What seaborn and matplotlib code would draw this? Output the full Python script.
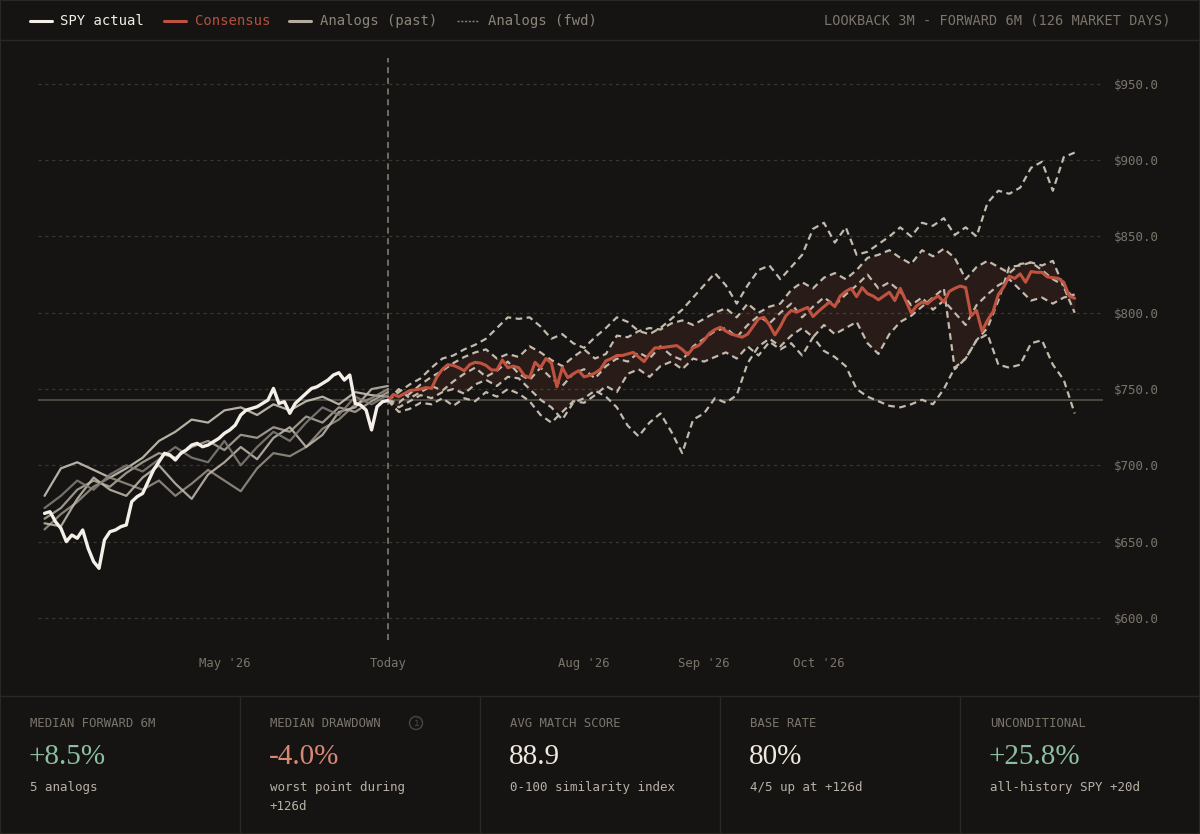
import numpy as np
import pandas as pd
import seaborn as sns
import matplotlib.pyplot as plt
from matplotlib.lines import Line2D
from matplotlib.patches import Ellipse, Rectangle

# x axis = market days relative to today (0)
spy_days = list(range(-63, 1))
past_days = list(range(-63, 1, 3))
fwd_days = list(range(0, 127, 2))
cons_days = list(range(0, 127))

today_price = 742.5

# SPY actual, last 3 months
spy_actual = [668.5, 669.6, 663.1, 658.7, 650.0, 654.3, 652.2, 657.6, 645.6, 636.9,
              632.5, 651.1, 656.5, 657.6, 659.8, 660.9, 676.2, 679.5, 681.6, 689.3,
              697.0, 702.4, 707.9, 706.8, 703.5, 707.9, 710.1, 713.3, 714.4, 712.2,
              713.3, 715.5, 717.7, 721.0, 723.2, 726.4, 733.0, 736.2, 737.3, 738.4,
              740.6, 742.8, 750.4, 740.6, 741.7, 734.1, 740.6, 743.9, 747.2, 750.4,
              751.5, 753.7, 755.9, 759.2, 760.7, 755.9, 759.2, 740.6, 739.5, 736.2,
              723.2, 738.4, 741.7, 742.5]

# analogs, lookback window (every 3rd day)
past_a1 = [680, 698, 702, 697, 692, 698, 705, 716, 722, 730, 728, 736, 738, 733, 740, 736, 742, 745, 740, 748, 746, 745]
past_a2 = [665, 672, 684, 690, 686, 695, 702, 708, 705, 712, 716, 710, 720, 718, 725, 722, 732, 728, 738, 735, 742, 748]
past_a3 = [658, 668, 676, 686, 692, 688, 684, 690, 680, 688, 697, 690, 683, 698, 708, 706, 712, 724, 730, 740, 744, 750]
past_a4 = [662, 660, 678, 692, 684, 680, 692, 700, 688, 678, 694, 702, 712, 704, 718, 725, 712, 720, 735, 738, 750, 752]
past_a5 = [672, 680, 690, 684, 694, 700, 696, 704, 712, 705, 702, 716, 700, 712, 722, 716, 728, 738, 733, 745, 740, 746]

# analogs, forward window (every 2nd day)
fwd_a1 = [742.5, 748, 753, 757, 764, 770, 772, 776, 779, 783, 790, 797, 796, 797, 791, 783, 786, 780, 777, 784,
          790, 797, 794, 788, 786, 790, 796, 802, 810, 818, 826, 818, 806, 818, 828, 831, 822, 830, 838, 855,
          859, 846, 856, 838, 840, 845, 850, 856, 850, 859, 857, 862, 851, 856, 850, 872, 880, 878, 882, 895,
          899, 880, 902, 905]
fwd_a2 = [742.5, 741, 747, 753, 758, 762, 767, 771, 774, 776, 770, 773, 771, 778, 774, 769, 765, 771, 776, 770,
          773, 785, 784, 788, 790, 789, 793, 795, 792, 796, 800, 803, 797, 806, 800, 804, 806, 815, 820, 816,
          823, 826, 822, 828, 836, 838, 841, 836, 832, 841, 837, 842, 836, 822, 830, 834, 830, 826, 832, 833,
          831, 834, 817, 800]
fwd_a3 = [742.5, 750, 744, 748, 752, 749, 755, 760, 764, 758, 762, 768, 760, 756, 764, 757, 752, 760, 763, 757,
          765, 770, 768, 774, 770, 778, 772, 769, 778, 783, 788, 790, 784, 792, 798, 793, 800, 806, 797, 804,
          810, 805, 812, 818, 825, 816, 820, 814, 805, 810, 802, 808, 800, 792, 805, 812, 818, 822, 815, 808,
          810, 806, 810, 812]
fwd_a4 = [742.5, 738, 742, 746, 744, 748, 750, 747, 753, 756, 752, 758, 757, 750, 743, 738, 730, 741, 744, 749,
          745, 738, 726, 719, 728, 734, 722, 708, 730, 734, 744, 741, 746, 767, 778, 783, 778, 785, 790, 784,
          792, 786, 790, 794, 780, 773, 786, 794, 798, 804, 810, 816, 763, 770, 782, 786, 766, 764, 766, 780,
          782, 766, 756, 734]
fwd_a5 = [742.5, 735, 737, 741, 740, 744, 739, 744, 742, 748, 745, 750, 747, 742, 733, 728, 735, 742, 741, 746,
          752, 748, 760, 763, 758, 765, 768, 763, 770, 768, 771, 774, 770, 778, 772, 781, 776, 780, 772, 784,
          775, 771, 765, 750, 745, 742, 739, 738, 740, 743, 740, 750, 764, 770, 782, 790, 808, 830, 831, 833,
          828, 822, 818, 808]

# consensus path (daily)
consensus = [742.5, 746.5, 745, 747, 749, 749.5, 750, 751, 750.5, 758,
             763, 766, 765.5, 764, 762, 766, 767.5, 767, 765.5, 762.5,
             762.5, 769, 764, 765, 764, 759, 757.5, 767.5, 764, 770,
             767, 751.5, 764, 757.5, 760, 762, 758, 759, 760.5, 763,
             768.5, 770, 772, 772, 773, 774, 771, 768, 773, 777,
             777, 777.5, 778, 778.5, 776, 772.5, 777, 778.5, 782, 786.5,
             789, 790.5, 788, 786, 785, 784, 786, 791, 796, 797,
             792, 785.5, 791, 798, 801.5, 800.5, 802, 803.5, 797.5, 801,
             804, 807, 804, 811, 814, 816, 810.5, 816.5, 812.5, 811,
             808.5, 811, 813.5, 808, 816, 808, 800, 804.5, 807, 806,
             809, 811, 807, 814, 816, 817.5, 816.5, 798, 801.5, 788,
             795, 800.5, 812, 817, 824, 822.5, 825.5, 820, 827, 826.5,
             826.5, 823.5, 823, 822.5, 820, 811, 809.5]

price_ticks = [600, 650, 700, 750, 800, 850, 900, 950]
date_ticks = [-30, 0, 36, 58, 79]
date_labels = ["May '26", "Today", "Aug '26", "Sep '26", "Oct '26"]

stat_labels = ["MEDIAN FORWARD 6M", "MEDIAN DRAWDOWN", "AVG MATCH SCORE", "BASE RATE", "UNCONDITIONAL"]
stat_values = ["+8.5%", "-4.0%", "88.9", "80%", "+25.8%"]
stat_notes = ["5 analogs", "worst point during\n+126d", "0-100 similarity index", "4/5 up at +126d",
              "all-history SPY +20d"]

# colours
BG = "#151412"
EDGE = "#2a2823"
MUTED = "#7b756b"
WHITE = "#f4f0e8"
RED = "#c0533f"
FWD = "#c2baac"
GREEN = "#8cbfa2"
SALMON = "#d88873"
CREAM = "#efe8dc"
stat_colors = [GREEN, SALMON, CREAM, CREAM, GREEN]
past_colors = ["#d2cbbf", "#b3ac9f", "#9a9388", "#c4bdb1", "#85807a"]

sns.set_theme(style="dark", rc={"axes.facecolor": BG, "figure.facecolor": BG, "savefig.facecolor": BG})
plt.rcParams["font.family"] = ["DejaVu Sans Mono", "DejaVu Sans"]

W, H = 1200, 834
fig = plt.figure(figsize=(12, 8.34), dpi=100)


def fx(px):
    return px / W


def fy(py):
    return 1 - py / H


ax = fig.add_axes([fx(38), fy(640), fx(1103) - fx(38), fy(58) - fy(640)])
ax.set_facecolor(BG)

# data frames
past_df = pd.DataFrame({"day": past_days, "a1": past_a1, "a2": past_a2, "a3": past_a3,
                        "a4": past_a4, "a5": past_a5})
fwd_df = pd.DataFrame({"day": fwd_days, "a1": fwd_a1, "a2": fwd_a2, "a3": fwd_a3,
                       "a4": fwd_a4, "a5": fwd_a5})
past_long = past_df.melt("day", var_name="analog", value_name="price")
fwd_long = fwd_df.melt("day", var_name="analog", value_name="price")

# interquartile band of the forward analogs
fwd_vals = fwd_df[["a1", "a2", "a3", "a4", "a5"]].to_numpy()
q25 = np.percentile(fwd_vals, 25, axis=1)
q75 = np.percentile(fwd_vals, 75, axis=1)
ax.fill_between(fwd_days, q25, q75, color=RED, alpha=0.12, lw=0, zorder=1)

ax.axhline(today_price, color="#5b564e", lw=1.1, zorder=1.5)
ax.axvline(0, color="#8b8479", lw=1.1, linestyle=(0, (4, 3)), zorder=1.6)

sns.lineplot(data=fwd_long, x="day", y="price", units="analog", estimator=None, color=FWD,
             lw=1.6, linestyle=(0, (3.0, 2.0)), ax=ax, legend=False, zorder=2)
sns.lineplot(data=past_long, x="day", y="price", hue="analog", palette=past_colors,
             lw=1.6, alpha=0.85, ax=ax, legend=False, errorbar=None, zorder=2)
sns.lineplot(x=cons_days, y=consensus, color=RED, lw=2.2, ax=ax, zorder=3)
sns.lineplot(x=spy_days, y=spy_actual, color=WHITE, lw=2.4, ax=ax, zorder=4)

ax.set_xlim(-64.2, 131.2)
ax.set_ylim(585.5, 967)
ax.set_xticks(date_ticks, date_labels)
ax.yaxis.tick_right()
ax.set_yticks(price_ticks, [f"${v:.1f}" for v in price_ticks])
ax.grid(axis="y", color="#3a3731", lw=0.9, linestyle=(0, (2.5, 3)), zorder=0)
ax.grid(axis="x", visible=False)
ax.tick_params(axis="x", length=0, pad=12, labelsize=8.8, colors=MUTED)
ax.tick_params(axis="y", length=0, pad=8, labelsize=9, colors=MUTED)
ax.set_xlabel("")
ax.set_ylabel("")
for s in ax.spines.values():
    s.set_visible(False)

# header legend
legend_items = [
    (30, WHITE, "-", 2.2, "SPY actual", "#f2ede4", 60),
    (164, RED, "-", 2.2, "Consensus", "#b2513e", 195),
    (289, "#b3ac9f", "-", 2.2, "Analogs (past)", "#8c8579", 320),
    (457, "#8c8579", (0, (1.5, 1.2)), 1.0, "Analogs (fwd)", "#8c8579", 488),
]
for x0, col, ls, lw, label, tcol, tx in legend_items:
    fig.add_artist(Line2D([fx(x0), fx(x0 + 22)], [fy(21), fy(21)], color=col, lw=lw,
                          linestyle=ls, transform=fig.transFigure))
    fig.text(fx(tx), fy(21), label, color=tcol, fontsize=10, va="center", ha="left")

fig.text(fx(1170), fy(21), "LOOKBACK 3M - FORWARD 6M (126 MARKET DAYS)", color=MUTED,
         fontsize=9.8, va="center", ha="right")

# separators
fig.add_artist(Line2D([0, 1], [fy(40), fy(40)], color=EDGE, lw=1, transform=fig.transFigure))
fig.add_artist(Line2D([0, 1], [fy(696), fy(696)], color=EDGE, lw=1, transform=fig.transFigure))
for xd in [240, 480, 720, 960]:
    fig.add_artist(Line2D([fx(xd), fx(xd)], [fy(696), 0], color=EDGE, lw=1, transform=fig.transFigure))
fig.add_artist(Rectangle((0, 0), 1, 1, transform=fig.transFigure, fill=False, edgecolor=EDGE, lw=1.5))

# stats panel
for i, (lab, val, col, note) in enumerate(zip(stat_labels, stat_values, stat_colors, stat_notes)):
    x0 = 240 * i
    fig.text(fx(x0 + 30), fy(723.5), lab, fontsize=8.8, color=MUTED, va="center", ha="left")
    fig.text(fx(x0 + 29), fy(764), val, fontsize=21, family=["Liberation Serif", "DejaVu Serif"],
             color=col, va="baseline", ha="left")
    fig.text(fx(x0 + 30), fy(781), note, fontsize=9, color="#b8b1a5", va="top", ha="left",
             linespacing=1.55)

# info icon next to MEDIAN DRAWDOWN
fig.add_artist(Ellipse((fx(416), fy(723)), 13 / W, 13 / H, transform=fig.transFigure,
                       fill=False, edgecolor="#4a463f", lw=1))
fig.text(fx(416), fy(723), "i", fontsize=7, color="#4a463f", ha="center", va="center")

fig.savefig("out.png", dpi=100, facecolor=BG)
